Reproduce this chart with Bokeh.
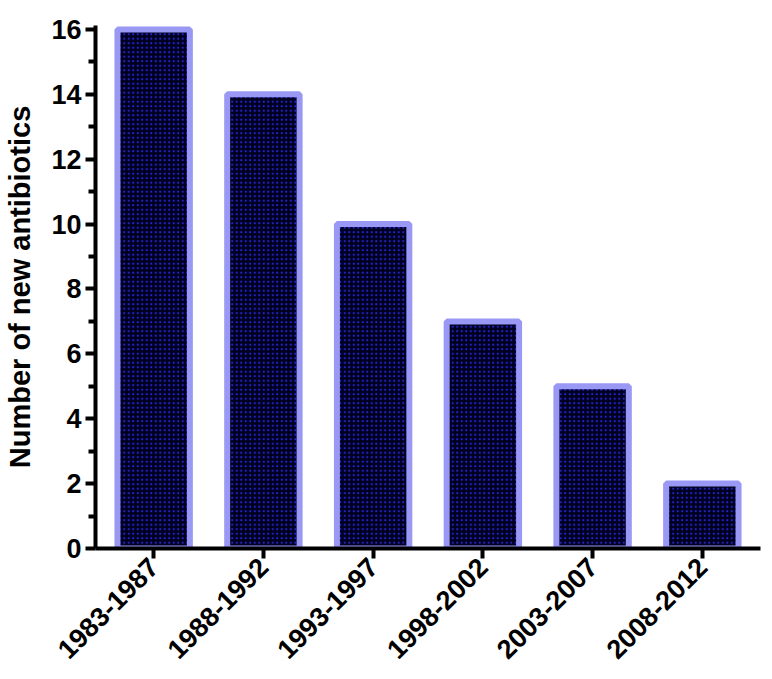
import math
from bokeh.plotting import figure
from bokeh.models import ColumnDataSource, Range1d, FixedTicker
from bokeh.embed import file_html
from bokeh.resources import INLINE

periods = ["1983-1987", "1988-1992", "1993-1997", "1998-2002", "2003-2007", "2008-2012"]
counts = [16, 14, 10, 7, 5, 2]
y_ticks = [0, 2, 4, 6, 8, 10, 12, 14, 16]
y_minor = [1, 3, 5, 7, 9, 11, 13, 15]

xs = list(range(len(periods)))
src = ColumnDataSource(dict(x=xs, top=counts, label=periods))

p = figure(width=764, height=670, output_backend="svg", toolbar_location=None,
           x_range=Range1d(-0.53, len(periods) - 0.47), y_range=Range1d(0, 16.12),
           min_border_left=95, min_border_top=25, min_border_right=4, min_border_bottom=122)
p.outline_line_color = None
p.grid.grid_line_color = None
p.background_fill_color = "white"

p.vbar(x="x", top="top", width=0.66, bottom=0, source=src,
       fill_color="#00001e", line_color="#9999f5", line_width=6,
       hatch_pattern="dot", hatch_color="#2323c8", hatch_scale=4.5, hatch_weight=1.4)

font = "Liberation Sans"
# x axis
p.xaxis.ticker = FixedTicker(ticks=xs)
p.xaxis.major_label_overrides = {i: s for i, s in enumerate(periods)}
p.xaxis.major_label_orientation = math.pi / 4
p.xaxis.major_label_text_font = font
p.xaxis.major_label_text_font_style = "bold"
p.xaxis.major_label_text_font_size = "27px"
p.xaxis.major_label_text_color = "black"
p.xaxis.major_label_standoff = 4
p.xaxis.axis_line_width = 4
p.xaxis.axis_line_color = "black"
p.xaxis.major_tick_line_width = 4
p.xaxis.major_tick_out = 10
p.xaxis.major_tick_in = 0
p.xaxis.minor_tick_line_color = None

# y axis
p.yaxis.ticker = FixedTicker(ticks=y_ticks, minor_ticks=y_minor)
p.yaxis.major_label_text_font = font
p.yaxis.major_label_text_font_style = "bold"
p.yaxis.major_label_text_font_size = "27px"
p.yaxis.major_label_text_color = "black"
p.yaxis.major_label_standoff = 4
p.yaxis.axis_line_width = 4
p.yaxis.axis_line_color = "black"
p.yaxis.major_tick_line_width = 4
p.yaxis.major_tick_out = 10
p.yaxis.major_tick_in = 0
p.yaxis.minor_tick_line_width = 4
p.yaxis.minor_tick_line_color = "black"
p.yaxis.minor_tick_out = 7
p.yaxis.minor_tick_in = 0
p.yaxis.axis_label = "Number of new antibiotics"
p.yaxis.axis_label_text_font = font
p.yaxis.axis_label_text_font_style = "bold"
p.yaxis.axis_label_text_font_size = "29px"
p.yaxis.axis_label_text_color = "black"
p.yaxis.axis_label_standoff = 12

open("out.html", "w").write(file_html(p, INLINE))
